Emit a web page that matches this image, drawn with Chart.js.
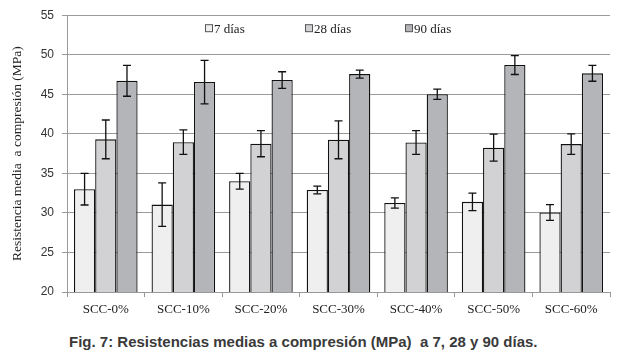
<!DOCTYPE html>
<html>
<head>
<meta charset="utf-8">
<script src="https://cdn.jsdelivr.net/npm/chart.js@4/dist/chart.umd.min.js"></script>
<style>
  body { margin: 0; background: #fff; width: 626px; height: 354px; overflow: hidden; }
  #wrap { position: absolute; left: 0; top: 0; width: 626px; height: 316px; }
  #caption {
    position: absolute; left: 69px; top: 333px;
    font-family: "Liberation Sans", Arial, sans-serif; font-weight: bold;
    font-size: 15px; line-height: 17px; color: #3a3a3a; white-space: pre;
  }
</style>
</head>
<body>
<div id="wrap"><canvas id="chart"></canvas></div>
<div id="caption">Fig. 7: Resistencias medias a compresión (MPa)  a 7, 28 y 90 días.</div>
<script>
// datos
const categories = ['SCC-0%', 'SCC-10%', 'SCC-20%', 'SCC-30%', 'SCC-40%', 'SCC-50%', 'SCC-60%'];
const seriesNames = ['7 días', '28 días', '90 días'];
const dias7 = [33.0, 31.05, 34.0, 32.9, 31.25, 31.4, 30.05];
const dias28 = [39.3, 38.95, 38.75, 39.25, 38.9, 38.25, 38.7];
const dias90 = [46.7, 46.55, 46.8, 47.55, 45.0, 48.7, 47.65];
const err7 = [2.0, 2.75, 1.0, 0.5, 0.65, 1.1, 1.0];
const err28 = [2.45, 1.55, 1.65, 2.4, 1.5, 1.7, 1.3];
const err90 = [1.95, 2.75, 1.05, 0.5, 0.65, 1.2, 1.0];
const yTicks = [20, 25, 30, 35, 40, 45, 50, 55];

const fills = ['#efeff0', '#d2d2d4', '#b4b5b9'];
const serif = '"Liberation Serif", "Times New Roman", serif';
const sans = '"Liberation Sans", Arial, sans-serif';

// barras de error
const errorBars = {
  id: 'errorBars',
  afterDatasetsDraw(chart) {
    const ctx = chart.ctx;
    const y = chart.scales.y;
    ctx.save();
    ctx.strokeStyle = '#111';
    ctx.lineWidth = 1.3;
    chart.data.datasets.forEach((ds, i) => {
      const meta = chart.getDatasetMeta(i);
      meta.data.forEach((bar, j) => {
        const v = ds.data[j], e = ds.errors[j];
        const top = y.getPixelForValue(v + e);
        const bot = y.getPixelForValue(v - e);
        ctx.beginPath();
        ctx.moveTo(bar.x, top); ctx.lineTo(bar.x, bot);
        ctx.moveTo(bar.x - 4, top); ctx.lineTo(bar.x + 4, top);
        ctx.moveTo(bar.x - 4, bot); ctx.lineTo(bar.x + 4, bot);
        ctx.stroke();
      });
    });
    ctx.restore();
  }
};

// leyenda dentro del area
const innerLegend = {
  id: 'innerLegend',
  afterDraw(chart) {
    const ctx = chart.ctx;
    const area = chart.chartArea;
    ctx.save();
    ctx.font = '13px ' + serif;
    ctx.textBaseline = 'middle';
    chart.data.datasets.forEach((ds, i) => {
      const x = area.left + 138 + i * 100;
      const y = area.top + 13;
      ctx.fillStyle = ds.backgroundColor;
      ctx.fillRect(x, y - 3.5, 7, 7);
      ctx.strokeStyle = '#555';
      ctx.lineWidth = 1;
      ctx.strokeRect(x + 0.5, y - 3.5, 7, 7);
      ctx.fillStyle = '#222';
      ctx.fillText(ds.label, x + 9, y + 1);
    });
    ctx.restore();
  }
};

const values = [dias7, dias28, dias90];
const errs = [err7, err28, err90];

new Chart(document.getElementById('chart'), {
  type: 'bar',
  data: {
    labels: categories,
    datasets: seriesNames.map((name, i) => ({
      label: name,
      data: values[i],
      errors: errs[i],
      backgroundColor: fills[i],
      borderColor: '#111',
      borderWidth: 1.3,
      categoryPercentage: 0.82,
      barPercentage: 1.0
    }))
  },
  options: {
    responsive: true,
    maintainAspectRatio: false,
    animation: false,
    layout: { padding: { top: 12, right: 16, left: 9, bottom: 0 } },
    plugins: {
      tooltip: { enabled: false },
      legend: { display: false }
    },
    scales: {
      x: {
        grid: { display: true, offset: true, drawOnChartArea: false, color: '#999', tickLength: 5 },
        border: { color: '#999' },
        ticks: { font: { family: serif, size: 13 }, color: '#222', padding: 5 },
        afterFit(scale) { scale.height = 24; }
      },
      y: {
        min: 20,
        max: 55,
        afterBuildTicks(scale) { scale.ticks = yTicks.map(v => ({ value: v })); },
        grid: { color: '#9a9a9a', tickLength: 5 },
        border: { color: '#9a9a9a' },
        ticks: { font: { family: sans, size: 12 }, color: '#333', padding: 8 },
        title: {
          display: true,
          text: 'Resistencia media  a compresión (MPa)',
          font: { family: serif, size: 13.5 },
          color: '#222',
          padding: { top: 0, bottom: 4 }
        },
        afterFit(scale) { scale.width = 58; }
      }
    }
  },
  plugins: [errorBars, innerLegend]
});
</script>
</body>
</html>
